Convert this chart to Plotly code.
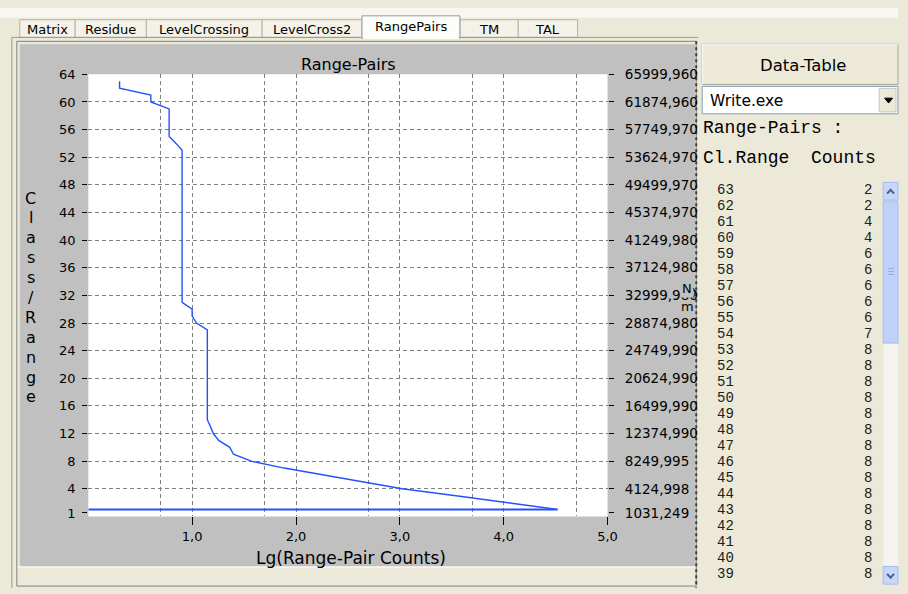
import numpy as np
import plotly.graph_objects as go

W, H = 908, 594

# ---------------- data ----------------
classes = [63, 62, 61, 60, 59, 58, 57, 56, 55, 54,
           53, 52, 51, 50, 49, 48, 47, 46, 45, 44, 43, 42, 41, 40,
           39, 38, 37, 36, 35, 34, 33, 32, 31,
           30, 29, 28,
           27, 26, 25, 24, 23, 22, 21, 20, 19, 18, 17, 16, 15, 14,
           13, 12, 11, 10, 9, 8, 7, 6, 5, 4, 3, 2, 1]
counts = [2, 2, 4, 4, 6, 6, 6, 6, 6, 7,
          8, 8, 8, 8, 8, 8, 8, 8, 8, 8, 8, 8, 8, 8,
          8, 8, 8, 8, 8, 8, 8, 8, 8,
          10, 10, 11,
          14, 14, 14, 14, 14, 14, 14, 14, 14, 14, 14, 14, 14, 14,
          15, 16, 18, 23, 25, 37, 77, 190, 470, 1050, 3470, 11000, 33000]

y_tick_vals = [0.5, 4, 8, 12, 16, 20, 24, 28, 32, 36, 40, 44, 48, 52, 56, 60, 64]
y_tick_text = ["1", "4", "8", "12", "16", "20", "24", "28", "32", "36", "40",
               "44", "48", "52", "56", "60", "64"]
right_tick_text = ["1031,249", "4124,998", "8249,995", "12374,990", "16499,990",
                   "20624,990", "24749,990", "28874,980", "32999,980", "37124,980",
                   "41249,980", "45374,970", "49499,970", "53624,970", "57749,970",
                   "61874,960", "65999,960"]
y_grid_vals = [4, 8, 12, 16, 20, 24, 28, 32, 36, 40, 44, 48, 52, 56, 60]
x_tick_vals = [1, 2, 3, 4, 5]
x_tick_text = ["1,0", "2,0", "3,0", "4,0", "5,0"]
x_grid_counts = [5, 10, 50, 100, 500, 1000, 5000, 10000, 50000]

tab_labels = ["Matrix", "Residue", "LevelCrossing", "LevelCross2", "RangePairs", "TM", "TAL"]
n_table_rows = 25

# ---------------- helpers ----------------
def px(x):
    return x / W

def py(y):
    return 1 - y / H

shapes = []

def rect(x0, y0, x1, y1, fill=None, line=None, lw=1, layer="below"):
    shapes.append(dict(type="rect", xref="paper", yref="paper",
                       x0=px(x0), x1=px(x1), y0=py(y1), y1=py(y0),
                       fillcolor=fill if fill else "rgba(0,0,0,0)",
                       line=dict(color=line if line else "rgba(0,0,0,0)", width=lw if line else 0),
                       layer=layer))

def seg(x0, y0, x1, y1, color, lw=1, dash="solid", layer="below"):
    shapes.append(dict(type="line", xref="paper", yref="paper",
                       x0=px(x0), x1=px(x1), y0=py(y0), y1=py(y1),
                       line=dict(color=color, width=lw, dash=dash), layer=layer))

def poly(points, color, lw=1, fill=None, closed=False, layer="above"):
    d = "M " + " L ".join(f"{px(a):.5f},{py(b):.5f}" for a, b in points)
    if closed:
        d += " Z"
    shapes.append(dict(type="path", xref="paper", yref="paper", path=d,
                       line=dict(color=color, width=lw),
                       fillcolor=fill if fill else "rgba(0,0,0,0)", layer=layer))

annotations = []

def text(x, y, s, size=13, family="DejaVu Sans", color="black", xanchor="center",
         yanchor="middle", bg=None):
    a = dict(xref="paper", yref="paper", x=px(x), y=py(y), text=s, showarrow=False,
             xanchor=xanchor, yanchor=yanchor,
             font=dict(family=family, size=size, color=color))
    if bg:
        a["bgcolor"] = bg
    annotations.append(a)

BEIGE = "#ECE9D8"
GRAY = "#C0C0C0"
BLUE = "#2450FF"
NB = "\u00a0"
TICKC = "#000000"

PLOT_L, PLOT_R, PLOT_T, PLOT_B = 89.3, 614.3, 67.7, 518.9

# ---------------- window chrome ----------------
rect(0, 0, W, 10, fill="#F7F6F1")
tab_edges = [20, 76, 148, 265, 366, 465, 524, 584]
for i in range(len(tab_labels)):
    if i == 4:
        continue
    rect(tab_edges[i], 12, tab_edges[i + 1], 30, fill="#F4F2E8", line="#B5B2A6")
seg(12, 30, 706, 30, "#919B9C")
rect(tab_edges[4], 8, tab_edges[5], 31, fill="#FCFCF9", line="#919B9C")
seg(tab_edges[4] + 1, 30.5, tab_edges[5] - 1, 30.5, "#FCFCF9", lw=2)
tab_y = [22, 22, 22, 22, 19, 22, 22]
for i, lab in enumerate(tab_labels):
    text((tab_edges[i] + tab_edges[i + 1]) / 2, tab_y[i], lab, size=13)

# left page frame + chart panel
seg(12, 30, 12, 592, "#919B9C")
rect(17, 34, 704, 590, line="#808080")
rect(20, 37, 703, 570, fill=GRAY)
rect(PLOT_L, PLOT_T, PLOT_R, PLOT_B, fill="#FFFFFF")
seg(18, 570.5, 703, 570.5, "#FFFFFF")
seg(704, 34, 704, 592, "#404040", lw=2, dash="dot")

# right panel: button, combo, list, scrollbar
rect(710, 37, 908, 78, fill=BEIGE, line="#A8A698")
seg(710, 37.5, 908, 37.5, "#FFFFFF")
seg(710.5, 37, 710.5, 78, "#FFFFFF")
rect(710, 80, 908, 108, fill="#FFFFFF", line="#7F9DB9")
rect(889, 82, 906, 106, fill=BEIGE, line="#C9C6B8")
poly([(894.5, 92), (902.5, 92), (898.5, 97)], "black", lw=1, fill="black", closed=True)

rect(893, 178, 908, 588, fill="#F4F3EE")
rect(893, 178, 908, 196, fill="#C6D6FC", line="#A7BCEB")
rect(893, 197, 908, 342, fill="#BFD1FA", line="#A7BCEB")
for gy in (266, 269, 272):
    seg(898, gy, 904, gy, "#8FA9E6")
rect(893, 570, 908, 588, fill="#C6D6FC", line="#A7BCEB")
poly([(897, 189.5), (900.5, 185.5), (904, 189.5)], "#4D6185", lw=2)
poly([(897, 577.5), (900.5, 581.5), (904, 577.5)], "#4D6185", lw=2)

# ---------------- texts ----------------
text(352.5, 58, "Range-Pairs", size=16)
text(355, 561, "Lg(Range-Pair Counts)", size=17)
for i, ch in enumerate("Class/Range"):
    text(31, 194 + i * 20.3, ch, size=16)
text(695, 286, "N", size=13, bg=GRAY)
text(702, 290, ")", size=11)
text(695, 305, "m", size=13)

text(812, 59, "Data-Table", size=16.5)
text(716, 95, "Write.exe", size=15.5, xanchor="left")
text(709, 122, "Range-Pairs :", size=18, family="Liberation Mono", xanchor="left")
text(709, 153, "Cl.Range  Counts", size=18, family="Liberation Mono", xanchor="left")
for i in range(n_table_rows):
    yy = 185.7 + i * 16.32
    text(723, yy, str(classes[i]), size=14, family="Liberation Mono", xanchor="left", color="#202020")
    text(884, yy, str(counts[i]), size=14, family="Liberation Mono", xanchor="right", color="#202020")

# ---------------- chart ----------------
lg = np.log10(np.array(counts, dtype=float))
fig = go.Figure()
fig.add_trace(go.Scatter(x=lg, y=classes, mode="lines", line=dict(color=BLUE, width=1.4),
                         hoverinfo="skip", showlegend=False))
fig.add_trace(go.Scatter(x=[0, lg.max()], y=[classes[-1], classes[-1]], mode="lines",
                         line=dict(color=BLUE, width=2), hoverinfo="skip", showlegend=False))
fig.add_trace(go.Scatter(x=lg, y=classes, mode="none", yaxis="y2", hoverinfo="skip",
                         showlegend=False))

grid = dict(showgrid=True, gridcolor="#808080", gridwidth=1,
            griddash="4px,3px", tickmode="array")
tickfont = dict(family="DejaVu Sans", size=13, color="black")

fig.update_layout(
    width=W, height=H, autosize=False,
    margin=dict(l=0, r=0, t=0, b=0, pad=0),
    paper_bgcolor=BEIGE, plot_bgcolor="white",
    showlegend=False,
    shapes=shapes, annotations=annotations,
    xaxis=dict(domain=[PLOT_L / W, PLOT_R / W], range=[0, 5], tickmode="array",
               tickvals=x_tick_vals, ticktext=x_tick_text, ticks="outside", ticklen=8,
               tickwidth=1, tickcolor=TICKC, showgrid=False, zeroline=False,
               showline=False, tickfont=tickfont,
               minor=dict(tickvals=list(np.log10(x_grid_counts)), ticks="inside",
                          ticklen=1, tickcolor="#808080", **grid)),
    yaxis=dict(domain=[1 - PLOT_B / H, 1 - PLOT_T / H], range=[0, 64], tickmode="array",
               tickvals=y_tick_vals, ticktext=[t + NB for t in y_tick_text],
               ticks="outside", ticklen=5,
               tickwidth=1, tickcolor=TICKC, showgrid=False, zeroline=False,
               showline=False, tickfont=tickfont,
               minor=dict(tickvals=y_grid_vals, ticks="inside", ticklen=1,
                          tickcolor="#808080", **grid)),
    yaxis2=dict(overlaying="y", side="right", anchor="x", range=[0, 64], tickmode="array",
                tickvals=y_tick_vals, ticktext=[NB + NB + t for t in right_tick_text],
                ticks="outside", ticklen=5,
                tickwidth=1, tickcolor=TICKC, showgrid=False, zeroline=False,
                showline=False,
                tickfont=dict(family="DejaVu Sans", size=13.5, color="black")),
)

fig.write_html("out.html")
